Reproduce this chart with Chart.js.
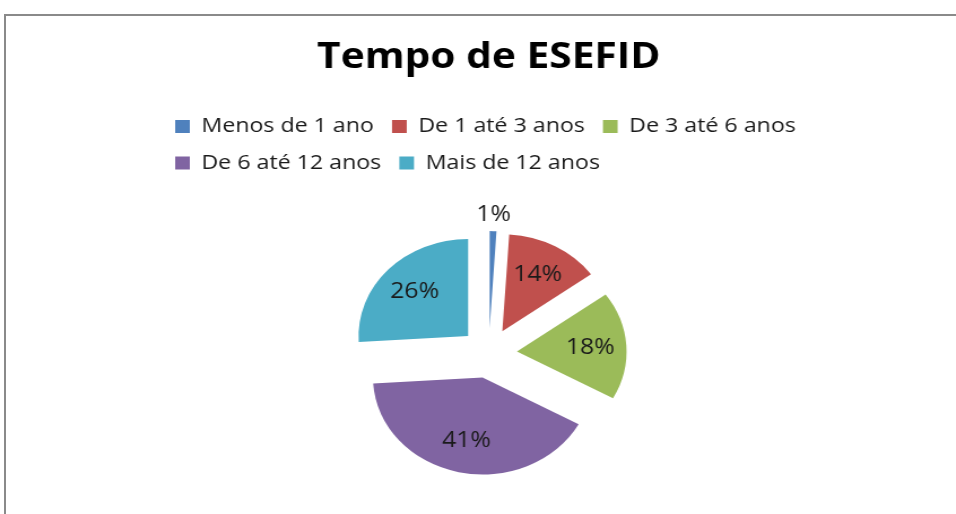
<!DOCTYPE html>
<html>
<head>
<meta charset="utf-8">
<script src="https://cdn.jsdelivr.net/npm/chart.js@4.4.1/dist/chart.umd.min.js"></script>
<style>
  html, body { margin: 0; padding: 0; background: #fff; overflow: hidden; }
  #frame { position: absolute; left: 4px; top: 14px; width: 1000px; height: 600px;
           border-top: 2px solid #8a8a8a; border-left: 2px solid #8a8a8a; }
  /* the original picture is stretched horizontally */
  #wrap { position: absolute; left: 0; top: 0; width: 846px; height: 514px;
          transform: scaleX(1.13); transform-origin: 0 0; }
</style>
</head>
<body>
<div id="frame"></div>
<div id="wrap"><canvas id="pie"></canvas></div>
<script>
const categories = ['Menos de 1 ano', 'De 1 até 3 anos', 'De 3 até 6 anos', 'De 6 até 12 anos', 'Mais de 12 anos'];
const values = [1, 14, 18, 41, 26];
const colors = ['#4F81BD', '#C0504D', '#9BBB59', '#8064A2', '#4BACC6'];

const EXPLODE = 25;

// a bit of extra room under the legend
const legendGap = {
  id: 'legendGap',
  beforeInit(chart) {
    const fit = chart.legend.fit;
    chart.legend.fit = function () {
      fit.call(this);
      this.height += 9;
    };
  }
};

// draw every slice pulled out from the centre (Excel style explosion)
const explodePlugin = {
  id: 'explode',
  beforeDatasetDraw(chart, args) {
    const ctx = chart.ctx;
    args.meta.data.forEach(arc => {
      const mid = (arc.startAngle + arc.endAngle) / 2;
      ctx.save();
      ctx.translate(Math.cos(mid) * EXPLODE, Math.sin(mid) * EXPLODE);
      arc.draw(ctx, chart.chartArea);
      ctx.restore();
    });
    return false;
  }
};

// percentage labels
const pctLabels = {
  id: 'pctLabels',
  afterDatasetsDraw(chart) {
    const ctx = chart.ctx;
    const meta = chart.getDatasetMeta(0);
    ctx.save();
    ctx.font = '22px "Open Sans"';
    ctx.fillStyle = '#1a1a1a';
    ctx.textAlign = 'center';
    ctx.textBaseline = 'middle';
    meta.data.forEach((arc, i) => {
      const mid = (arc.startAngle + arc.endAngle) / 2;
      const r = EXPLODE + arc.outerRadius * (values[i] < 5 ? 1.17 : 0.67);
      ctx.fillText(values[i] + '%', arc.x + Math.cos(mid) * r, arc.y + Math.sin(mid) * r);
    });
    ctx.restore();
  }
};

new Chart(document.getElementById('pie'), {
  type: 'pie',
  data: {
    labels: categories,
    datasets: [{
      data: values,
      backgroundColor: colors,
      borderWidth: 0,
      radius: 97
    }]
  },
  options: {
    responsive: true,
    maintainAspectRatio: false,
    animation: false,
    layout: { padding: { left: 139, right: 120, top: 0, bottom: 0 } },
    plugins: {
      title: {
        display: true,
        text: 'Tempo de ESEFID',
        color: '#000',
        font: { family: 'Open Sans', size: 36, weight: 'bold' },
        padding: { top: 36, bottom: 21 }
      },
      legend: {
        position: 'top',
        align: 'start',
        labels: {
          boxWidth: 13,
          boxHeight: 13,
          padding: 16,
          color: '#1a1a1a',
          font: { family: 'Open Sans', size: 20.5 }
        }
      },
      tooltip: { enabled: false }
    }
  },
  plugins: [legendGap, explodePlugin, pctLabels]
});
</script>
</body>
</html>
